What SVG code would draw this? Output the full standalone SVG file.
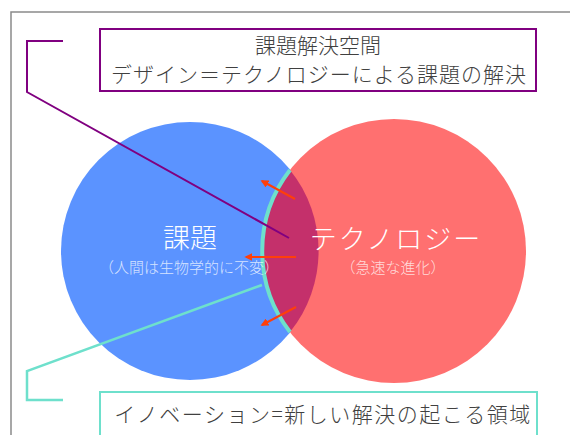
<svg xmlns="http://www.w3.org/2000/svg" width="570" height="435" viewBox="0 0 570 435">
<defs>
<style>
.jp{font-family:"Noto Sans CJK JP","Noto Sans CJK SC",sans-serif;}
.box{fill:#fff;stroke-width:2;}
.lbl{fill:#404040;font-size:21px;text-anchor:middle;font-weight:300;}
.big{fill:#fff;font-size:27px;text-anchor:middle;font-weight:300;}
.sub{fill:#fff;fill-opacity:0.75;font-size:15px;text-anchor:middle;font-weight:300;}
.arr{stroke:#FF3F0A;stroke-width:2;fill:none;marker-end:url(#ah);}
</style>
<marker id="ah" viewBox="0 0 10 10" refX="8" refY="5" markerWidth="4" markerHeight="4" orient="auto">
<path d="M0,0 L10,5 L0,10 z" fill="#FF3F0A"/>
</marker>
</defs>
<rect width="570" height="435" fill="#fff"/>
<rect x="11" y="12" width="620" height="500" fill="none" stroke="#8a8a8a" stroke-width="1.5"/>
<g id="problem">
<circle cx="190" cy="251" r="129" fill="#5B93FF"/>
</g>
<g id="technology">
<circle cx="394" cy="251" r="132" fill="#FF7070"/>
</g>
<g id="overlap">
<path d="M290,170 A129,129 0 0 1 290,332 A132,132 0 0 1 290,170 Z" fill="#C4306B"/>
<path d="M290,170 A132,132 0 0 0 290,332" fill="none" stroke="#6EE0CC" stroke-width="4"/>
</g>
<g id="labels" class="jp">
<text class="big" x="190" y="248">課題</text>
<text class="sub" x="189" y="273">（人間は生物学的に不変）</text>
<text class="big" x="396" y="249" letter-spacing="2">テクノロジー</text>
<text class="sub" x="393" y="273">（急速な進化）</text>
</g>
<g id="connectors">
<polyline points="63,41 27,41 27,92 289,238" fill="none" stroke="#800080" stroke-width="2"/>
<polyline points="63,400 27,400 27,371 262,285" fill="none" stroke="#6EE0CC" stroke-width="2.5"/>
<line class="arr" x1="295" y1="199" x2="262" y2="181"/>
<line class="arr" x1="296" y1="257" x2="246" y2="257"/>
<line class="arr" x1="296" y1="307" x2="262" y2="325"/>
</g>
<g id="solution-space" class="jp">
<rect class="box" x="100" y="29" width="436" height="62" stroke="#800080"/>
<text class="lbl" x="318" y="53">課題解決空間</text>
<text class="lbl" x="319" y="82" letter-spacing="1">デザイン＝テクノロジーによる課題の解決</text>
</g>
<g id="innovation" class="jp">
<rect class="box" x="100" y="392" width="437" height="80" stroke="#6EE0CC"/>
<text class="lbl" x="323" y="422" letter-spacing="1.5">イノベーション=新しい解決の起こる領域</text>
</g>
</svg>
